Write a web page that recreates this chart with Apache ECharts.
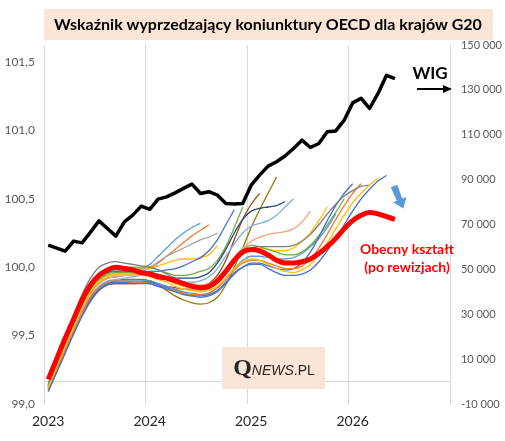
<!DOCTYPE html>
<html><head><meta charset="utf-8">
<script src="https://cdn.jsdelivr.net/npm/echarts@6/dist/echarts.min.js"></script>
<style>html,body{margin:0;padding:0;background:#fff}#c{width:505px;height:441px}</style>
</head><body><div id="c"></div>
<script>
// ---- data ----
const years = ['2023', '2024', '2025', '2026'];
const wig = [60800,59500,58100,62600,61800,66600,71600,68200,64800,71200,74200,78200,
  76700,81300,82300,84100,86100,88000,83800,84600,83100,79400,79100,79400,
  87500,92000,96000,98000,100500,103900,107600,104300,106100,111300,111700,116500,
  124200,126200,121700,128400,136500,135000];
const current = [99.18,99.33,99.48,99.62,99.76,99.87,99.94,99.98,100.0,99.99,99.98,99.96,
  99.95,99.93,99.92,99.90,99.88,99.86,99.85,99.86,99.90,99.97,100.05,100.11,
  100.13,100.12,100.09,100.05,100.03,100.03,100.04,100.06,100.10,100.15,100.21,100.28,
  100.34,100.38,100.40,100.39,100.37,100.35];
const vintage01 = [99.14,99.29,99.44,99.59,99.73,99.85,99.93,99.97,99.98,99.98,99.98,99.99,100.02,100.08,100.14,100.20,100.25,100.29,100.32];
const vintage02 = [99.13,99.28,99.43,99.58,99.72,99.84,99.92,99.96,99.97,99.97,99.97,99.98,99.99,100.03,100.08,100.13,100.18,100.23,100.27,100.31];
const vintage03 = [99.14,99.30,99.46,99.61,99.75,99.87,99.95,99.99,100.0,100.0,99.99,99.99,100.0,100.04,100.08,100.11,100.14,100.17,100.20,100.22,100.25];
const vintage04 = [99.12,99.27,99.42,99.57,99.71,99.83,99.90,99.94,99.95,99.96,99.96,99.98,99.99,100.01,100.03,100.05,100.06,100.06,100.07,100.09,100.16];
const vintage05 = [99.13,99.28,99.43,99.58,99.72,99.84,99.92,99.96,99.97,99.97,99.97,99.97,99.97,99.97,99.98,99.99,100.01,100.04,100.07,100.12,100.20,100.31,100.42];
const vintage06 = [99.14,99.29,99.45,99.60,99.74,99.86,99.94,99.98,99.99,100.0,100.0,100.0,100.0,99.98,99.96,99.94,99.94,99.95,99.97,99.99,100.05,100.15,100.29,100.44];
const vintage07 = [99.10,99.24,99.38,99.52,99.65,99.76,99.83,99.87,99.88,99.88,99.88,99.89,99.90,99.88,99.86,99.85,99.84,99.84,99.85,99.88,99.94,100.05,100.20,100.35,100.46,100.54];
const vintage08 = [99.11,99.25,99.39,99.53,99.66,99.78,99.85,99.89,99.90,99.91,99.91,99.91,99.90,99.87,99.83,99.79,99.76,99.74,99.73,99.74,99.78,99.87,100.0,100.14,100.29,100.42,100.54,100.66];
const vintage09 = [99.12,99.27,99.42,99.56,99.69,99.81,99.88,99.92,99.93,99.94,99.95,99.96,99.96,99.94,99.93,99.92,99.92,99.92,99.93,99.96,100.03,100.13,100.25,100.35,100.41,100.43,100.44,100.45,100.48];
const vintage10 = [99.11,99.26,99.40,99.54,99.67,99.79,99.86,99.90,99.91,99.92,99.93,99.94,99.95,99.93,99.91,99.90,99.89,99.89,99.90,99.93,99.99,100.08,100.17,100.25,100.30,100.32,100.34,100.38,100.44,100.50];
const vintage11 = [99.12,99.27,99.41,99.56,99.69,99.80,99.88,99.92,99.93,99.94,99.95,99.96,99.96,99.95,99.93,99.91,99.89,99.88,99.87,99.88,99.92,99.99,100.07,100.14,100.19,100.22,100.24,100.25,100.26,100.28,100.33,100.41];
const vintage12 = [99.13,99.28,99.42,99.57,99.71,99.82,99.90,99.94,99.95,99.95,99.95,99.95,99.95,99.93,99.91,99.88,99.86,99.84,99.83,99.84,99.88,99.95,100.03,100.10,100.14,100.14,100.13,100.12,100.12,100.14,100.19,100.25,100.34,100.44];
const vintage13 = [99.10,99.25,99.39,99.53,99.66,99.78,99.85,99.89,99.90,99.90,99.90,99.90,99.90,99.88,99.86,99.84,99.82,99.81,99.80,99.81,99.85,99.92,99.99,100.05,100.08,100.08,100.07,100.06,100.06,100.07,100.10,100.15,100.21,100.29,100.39];
const vintage14 = [99.13,99.28,99.43,99.58,99.72,99.84,99.91,99.95,99.96,99.96,99.96,99.96,99.96,99.95,99.93,99.91,99.89,99.87,99.86,99.87,99.91,99.98,100.06,100.13,100.16,100.15,100.13,100.11,100.09,100.09,100.11,100.16,100.23,100.31,100.40,100.50];
const vintage15 = [99.10,99.24,99.38,99.52,99.65,99.77,99.84,99.88,99.89,99.89,99.89,99.89,99.89,99.87,99.85,99.83,99.81,99.79,99.78,99.79,99.82,99.88,99.95,100.0,100.03,100.03,100.01,99.99,99.98,99.99,100.03,100.11,100.22,100.34,100.45,100.54,100.61];
const vintage16 = [99.10,99.25,99.39,99.53,99.66,99.78,99.85,99.89,99.90,99.90,99.89,99.89,99.88,99.86,99.84,99.83,99.81,99.80,99.80,99.81,99.85,99.91,99.98,100.03,100.05,100.05,100.03,100.01,99.99,99.99,100.01,100.06,100.14,100.24,100.35,100.45,100.54,100.61];
const vintage17 = [99.15,99.32,99.49,99.65,99.80,99.92,100.0,100.03,100.04,100.03,100.02,100.01,100.0,99.98,99.95,99.92,99.89,99.87,99.85,99.86,99.90,99.97,100.05,100.11,100.14,100.15,100.15,100.15,100.15,100.16,100.19,100.24,100.31,100.39,100.46,100.52,100.56,100.59,100.60];
const vintage18 = [99.12,99.27,99.42,99.56,99.70,99.82,99.89,99.93,99.94,99.94,99.94,99.94,99.93,99.91,99.89,99.86,99.84,99.83,99.82,99.83,99.86,99.92,99.99,100.04,100.06,100.05,100.02,99.99,99.97,99.96,99.98,100.02,100.09,100.18,100.28,100.38,100.47,100.54,100.60,100.65];
const vintage19 = [99.09,99.23,99.37,99.51,99.64,99.75,99.83,99.87,99.88,99.88,99.88,99.88,99.88,99.86,99.84,99.82,99.80,99.79,99.79,99.80,99.83,99.89,99.96,100.0,100.02,100.02,99.99,99.96,99.94,99.94,99.95,99.98,100.04,100.12,100.21,100.31,100.41,100.50,100.57,100.63,100.67];

const vintages = [vintage01,vintage02,vintage03,vintage04,vintage05,vintage06,vintage07,vintage08,vintage09,vintage10,
  vintage11,vintage12,vintage13,vintage14,vintage15,vintage16,vintage17,vintage18,vintage19];
const vintageColors = ['#5B9BD5','#ED7D31','#A5A5A5','#FFC000','#4472C4','#70AD47','#9E480E','#997300','#264478','#7CAFDD',
  '#F4A77A','#FFC000','#5B9BD5','#70AD47','#4472C4','#ED7D31','#7F7F7F','#FFC000','#4472C4'];

// month categories Jan 2023 .. Dec 2026
const months = [];
years.forEach(y => { for (let m = 1; m <= 12; m++) months.push(y + '-' + (m < 10 ? '0' + m : m)); });

const FONT = 'Lato, "Open Sans", sans-serif';
const series = [];
vintages.forEach((v, k) => series.push({
  type: 'line', data: v, yAxisIndex: 0, smooth: 0.3, symbol: 'none',
  lineStyle: { width: 1.3, color: vintageColors[k] }, z: 2, silent: true
}));
series.push({ type: 'line', data: current, yAxisIndex: 0, smooth: 0.3, symbol: 'none',
  lineStyle: { width: 5, color: '#FF0000' }, z: 3 });
series.push({ type: 'line', data: wig, yAxisIndex: 1, smooth: false, symbol: 'none',
  lineStyle: { width: 3.5, color: '#000000', join: 'round' }, z: 4 });

const chart = echarts.init(document.getElementById('c'), null, { renderer: 'canvas' });
chart.setOption({
  animation: false,
  backgroundColor: '#fff',
  grid: { left: 44, right: 47, top: 45, bottom: 37 },
  xAxis: {
    type: 'category', data: months, boundaryGap: true,
    axisLine: { show: true, lineStyle: { color: '#D9D9D9', width: 1 } },
    axisTick: { show: false },
    splitLine: { show: true, interval: 11, lineStyle: { color: '#D9D9D9', width: 1 } },
    axisLabel: { interval: 11, color: '#262626', fontSize: 14, fontFamily: FONT, margin: 10,
      formatter: v => v.slice(0, 4) }
  },
  yAxis: [{
    type: 'value', min: 99, max: 101.624, interval: 0.5, position: 'left',
    axisLine: { show: false }, axisTick: { show: false }, splitLine: { show: false },
    axisLabel: { color: '#595959', fontSize: 12, fontFamily: FONT, margin: 9,
      formatter: v => Math.abs(v * 2 - Math.round(v * 2)) > 1e-6 ? '' : v.toFixed(1).replace('.', ',') }
  }, {
    type: 'value', min: -10000, max: 150000, interval: 20000, position: 'right',
    axisLine: { show: true, lineStyle: { color: '#D9D9D9' } }, axisTick: { show: false }, splitLine: { show: false },
    axisLabel: { color: '#595959', fontSize: 11, fontFamily: FONT, margin: 11,
      formatter: v => String(v).replace(/\B(?=(\d{3})+(?!\d))/g, ' ') }
  }],
  series: series,
  graphic: [
    { type: 'rect', shape: { x: 44, y: 9, width: 449, height: 31 }, style: { fill: '#FBE5D6' }, z: 10 },
    { type: 'text', x: 268, y: 25, z: 11, style: { text: 'Wskaźnik wyprzedzający koniunktury OECD dla krajów G20',
      font: 'bold 16px ' + FONT, fill: '#000', align: 'center', verticalAlign: 'middle' } },
    { type: 'text', x: 430, y: 74, z: 11, style: { text: 'WIG', font: 'bold 17px ' + FONT, fill: '#000',
      align: 'center', verticalAlign: 'middle' } },
    { type: 'line', shape: { x1: 417, y1: 89, x2: 445, y2: 89 }, style: { stroke: '#000', lineWidth: 2 }, z: 11 },
    { type: 'polygon', shape: { points: [[443, 85], [452, 89], [443, 93]] }, style: { fill: '#000' }, z: 11 },
    { type: 'polygon', shape: { points: [[397.2, 184.7], [402.3, 198.6], [406.4, 197.0], [403.3, 208.5], [393.1, 202.3], [396.9, 200.8], [390.8, 187.3]] },
      style: { fill: '#5B9BD5' }, z: 11 },
    { type: 'text', x: 407, y: 249, z: 11, style: { text: 'Obecny kształt', font: 'bold 14px ' + FONT, fill: '#FF0000',
      align: 'center', verticalAlign: 'middle' } },
    { type: 'text', x: 407, y: 267, z: 11, style: { text: '(po rewizjach)', font: 'bold 14px ' + FONT, fill: '#FF0000',
      align: 'center', verticalAlign: 'middle' } },
    { type: 'rect', shape: { x: 222, y: 347, width: 103, height: 42 }, style: { fill: '#FBE5D6' }, z: 10 },
    { type: 'text', x: 274, y: 369, z: 11, style: {
      text: '{q|Q}{n|NEWS}{p|.PL}', align: 'center', verticalAlign: 'middle',
      rich: {
        q: { font: 'bold 24px "Liberation Serif", serif', fill: '#262626' },
        n: { font: 'italic 14px "Liberation Sans", sans-serif', fill: '#262626', padding: [4, 0, 0, 0] },
        p: { font: '14px "Liberation Sans", sans-serif', fill: '#262626', padding: [4, 0, 0, 0] }
      } } }
  ]
});
</script></body></html>
